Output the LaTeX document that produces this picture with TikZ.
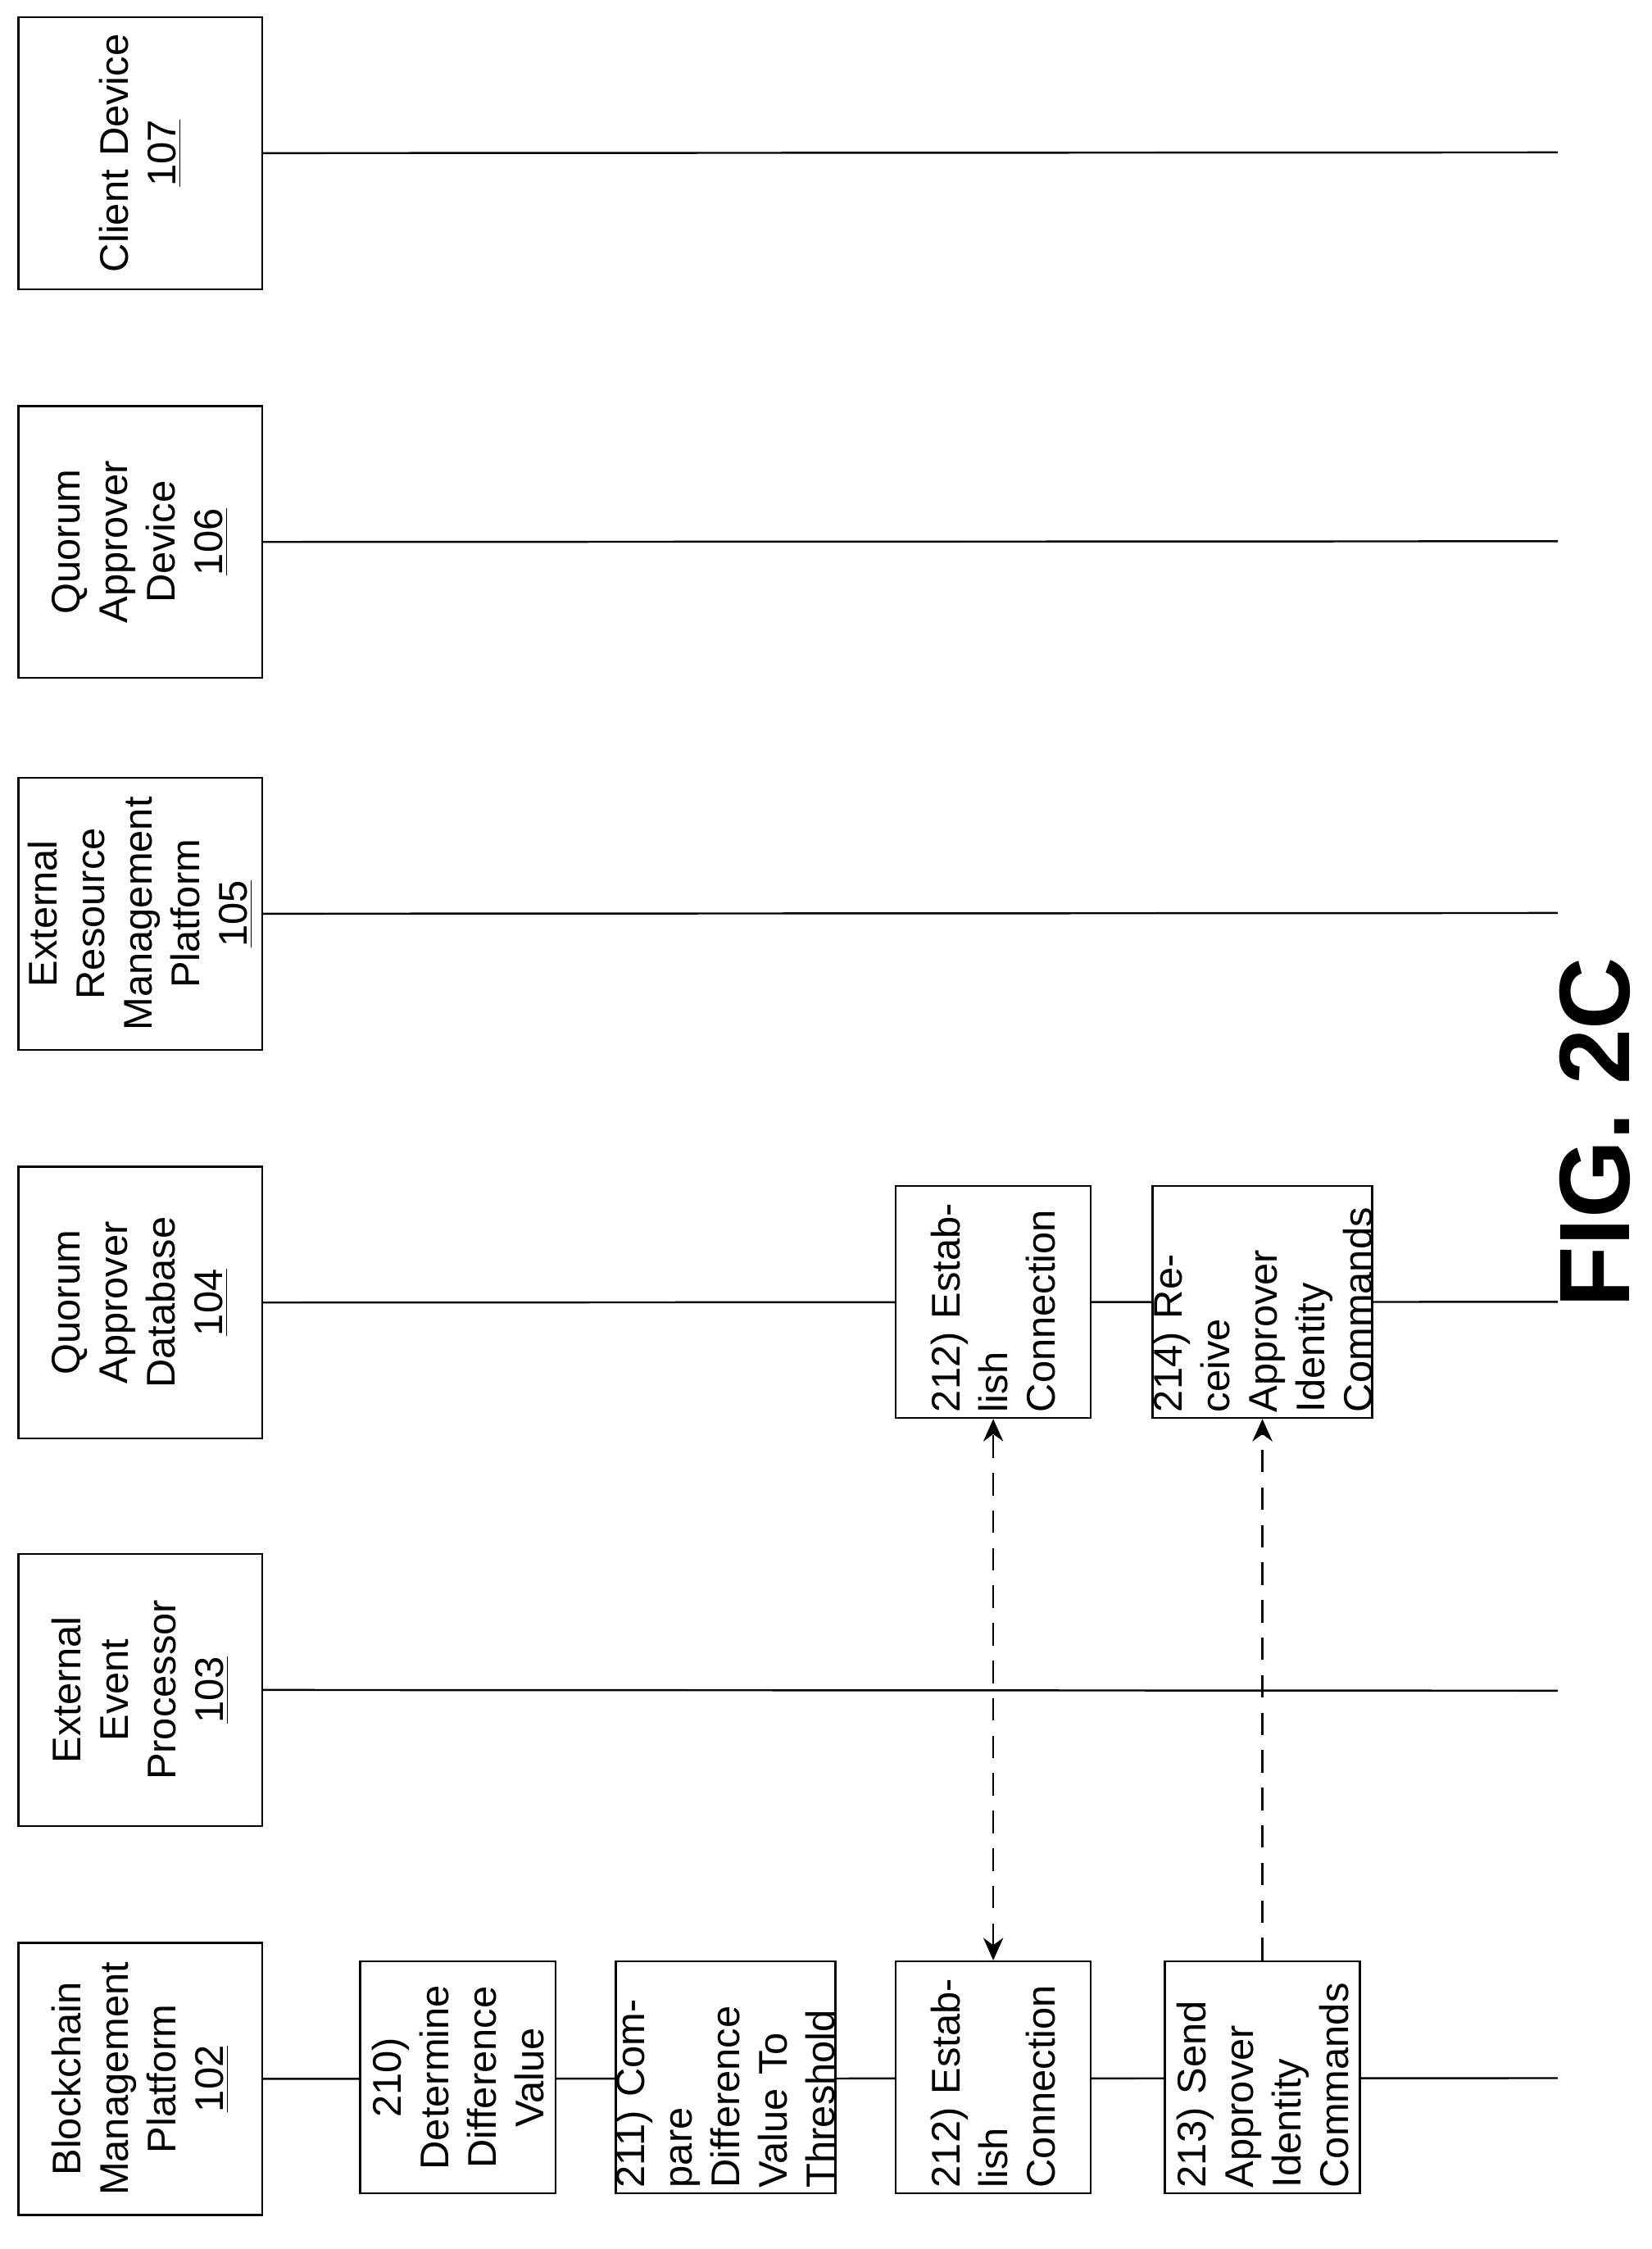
\documentclass[tikz,border=0pt]{standalone}
\usepackage{fontspec}
\setmainfont{Liberation Sans}
\usetikzlibrary{arrows.meta}
\tikzset{
  hdrbox/.style={draw, thick, rotate=90, minimum width=3.82cm, minimum height=3.42cm,
    align=center, text width=3.6cm, font=\fontsize{16}{19}\selectfont, inner sep=0pt},
  stepbox/.style={draw, thick, fill=white, rotate=90, minimum width=3.26cm, minimum height=2.74cm,
    align=left, text width=3.1cm, font=\fontsize{16}{19}\selectfont, inner sep=0pt},
  life/.style={thick},
  msg/.style={thick, dash pattern=on 9pt off 6pt, >={Stealth[length=9pt,width=8pt]}}
}
\begin{document}
\begin{tikzpicture}[x=0.02cm, y=-0.02cm]
  \useasboundingbox (0,0) rectangle (1160,1579);
  % header boxes
  \node[hdrbox] (cd)  at (98.5,107.5)  {Client Device\\\underline{107}};
  \node[hdrbox] (qad) at (98.5,380.5)  {Quorum\\Approver Device\\\underline{106}};
  \node[hdrbox] (erm) at (98.5,641.5)  {External\\Resource\\Management\\Platform\\\underline{105}};
  \node[hdrbox] (qdb) at (98.5,914.5)  {Quorum\\Approver\\Database\\\underline{104}};
  \node[hdrbox] (eep) at (98.5,1186.5) {External Event\\Processor\\\underline{103}};
  \node[hdrbox] (bmp) at (98.5,1459.5) {Blockchain\\Management\\Platform\\\underline{102}};
  % lifelines
  \foreach \h/\y in {cd/107,qad/380,erm/641,qdb/914,eep/1187,bmp/1459}
    \draw[life] (\h.south) -- (1094,\y);
  % steps
  \node[stepbox, align=center] (s210) at (321.5,1458.5) {210)\\Determine\\Difference\\Value};
  \node[stepbox] (s211) at (509.5,1458.5) {211) Compare\\Difference\\Value To\\Threshold};
  \node[stepbox] (s212) at (697.5,1458.5) {212) Establish\\Connection};
  \node[stepbox] (s213) at (886.5,1458.5) {213) Send\\Approver\\Identity\\Commands};
  \node[stepbox] (q212) at (697.5,914) {212) Establish\\Connection};
  \node[stepbox] (q214) at (886.5,914) {214) Receive\\Approver\\Identity\\Commands};
  % messages
  \draw[msg, <->] (s212.east) -- (q212.west);
  \draw[msg, ->] (s213.east) -- (q214.west);
  \node[rotate=90, font=\fontsize{40}{44}\selectfont\bfseries] (fig) at (1120,795) {FIG. 2C};
\end{tikzpicture}
\end{document}
